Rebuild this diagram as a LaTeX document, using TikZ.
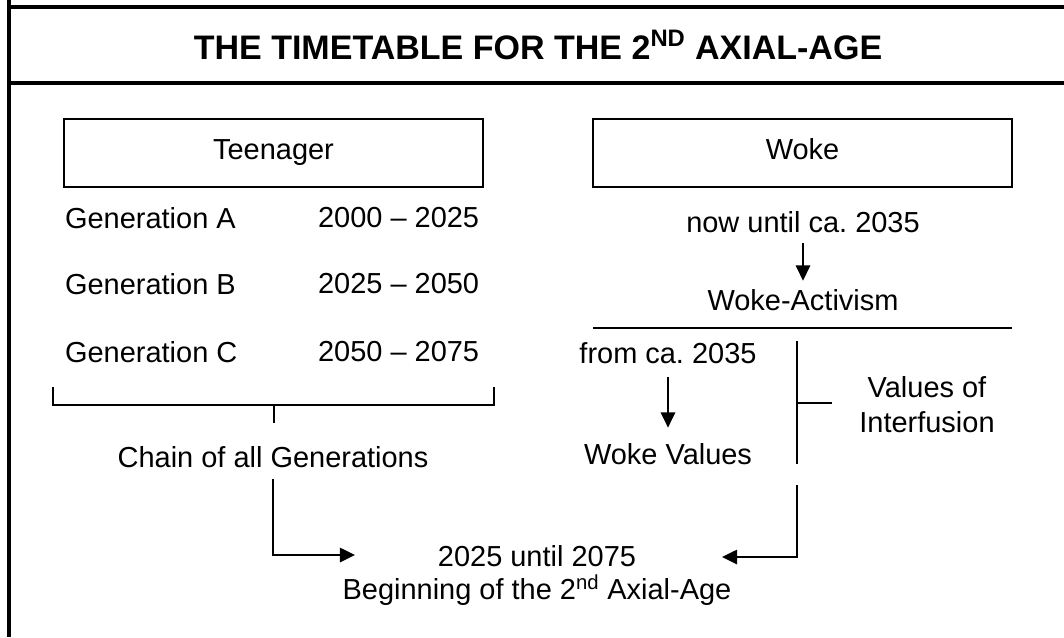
\documentclass[tikz,border=0pt]{standalone}
\usepackage{fontspec}
\setmainfont{Liberation Sans}
\usetikzlibrary{arrows.meta}
\frenchspacing
\tikzset{
box/.style = {rectangle, draw=black, line width=0.9pt, minimum width = #1, minimum height=1.7cm, text height=0.98em, text depth=0pt},
box/.default = 10.475cm, % width of the two headings
txt/.style = {inner sep=2pt, font=\fontsize{20.6}{25}\selectfont},
arw/.style = {-{Triangle[length=0.38cm, width=0.36cm]}, line width=1.4pt},
ln/.style = {line width=1.4pt},
frame/.style = {line width=2.8pt},
}

\begin{document}
\begin{tikzpicture}
    \useasboundingbox (0,0) rectangle (26.6,-15.925);
    % frame and title
    \draw[frame] (0.225,0) -- (0.225,-15.925);
    \draw[frame] (0.225,-0.175) -- (26.6,-0.175);
    \draw[frame] (0.225,-2.075) -- (26.6,-2.075);
    \node[inner sep=0pt, font=\fontsize{24.2}{29}\selectfont\bfseries] (title) at (13.45,-1.125) {THE TIMETABLE FOR THE 2\textsuperscript{ND} AXIAL-AGE};

    % left column
    \node[box, txt] (teen) at (6.8375,-3.825) {Teenager};
    \node[txt, anchor=west] (genA) at (1.55,-5.45) {Generation A};
    \node[txt, anchor=west] (genB) at (1.55,-7.1) {Generation B};
    \node[txt, anchor=west] (genC) at (1.55,-8.8) {Generation C};
    \node[txt, anchor=west] (yearA) at (7.875,-5.45) {2000 -- 2025};
    \node[txt, anchor=west] (yearB) at (7.875,-7.1) {2025 -- 2050};
    \node[txt, anchor=west] (yearC) at (7.875,-8.8) {2050 -- 2075};
    \coordinate (brL) at (1.325,-9.675);
    \coordinate (brR) at (12.35,-9.675);
    \coordinate (brM) at (6.85,-10.125);
    \draw[ln] (brL) -- (brL |- brM) -- (brR |- brM) -- (brR);
    \draw[ln] (brM) -- ++(0,-0.45);
    \node[txt] (chain) at (6.825,-11.425) {Chain of all Generations};

    % right column
    \node[box, txt] (woke) at (20.0625,-3.825) {Woke};
    \node[txt] (nowUntil) at (20.075,-5.55) {now until ca. 2035};
    \node[txt] (wokeAct) at (20.075,-7.5) {Woke-Activism};
    \draw[arw, shorten <=5pt, shorten >=4pt] (nowUntil) -- (wokeAct);
    \coordinate (splitL) at (14.825,-8.2);
    \coordinate (splitR) at (25.3,-8.2);
    \draw[ln] (splitL) -- (splitR);
    \node[txt] (fromCa) at (16.7,-8.825) {from ca. 2035};
    \node[txt] (wokeVal) at (16.7,-11.35) {Woke Values};
    \draw[arw, shorten <=7pt, shorten >=9pt] (fromCa) -- (wokeVal);
    \coordinate (mixTop) at (19.925,-8.525);
    \coordinate (mixBot) at (19.925,-11.6);
    \draw[ln] (mixTop) -- (mixBot);
    \node[txt, align=center] (interf) at (23.175,-10.125) {Values of\\Interfusion};
    \draw[ln] (19.925,-10.075) -- (20.8,-10.075);

    % result
    \node[txt] (axisYears) at (13.425,-13.9) {2025 until 2075};
    \node[txt] (axisBegin) at (13.425,-14.75) {Beginning of the 2\textsuperscript{nd} Axial-Age};
    \coordinate (tipL) at (8.875,-13.875);
    \coordinate (tipR) at (18.05,-13.925);
    \draw[arw, shorten <=6pt] (chain) |- (tipL);
    \draw[arw] (19.925,-12.125) |- (tipR);
\end{tikzpicture}
\end{document}
